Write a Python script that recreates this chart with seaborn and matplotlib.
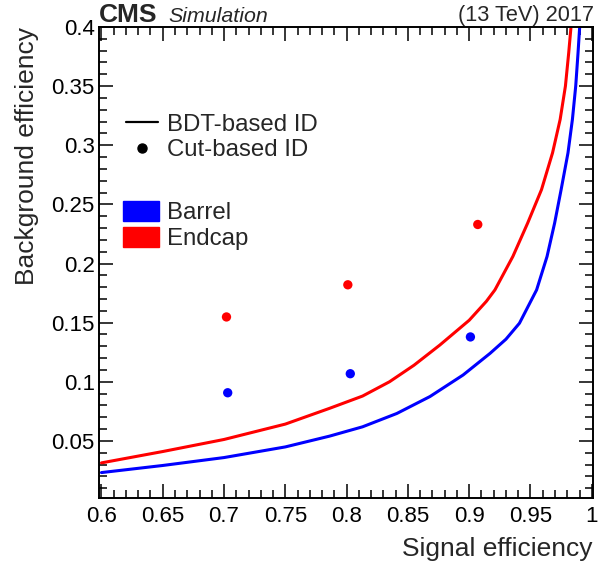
import numpy as np
import pandas as pd
import matplotlib
matplotlib.use("Agg")
import matplotlib.pyplot as plt
import seaborn as sns
from matplotlib.lines import Line2D
from matplotlib.patches import Patch
from matplotlib.ticker import MultipleLocator

# BDT-based ID curves (signal eff, background eff)
barrel_sig = [0.600, 0.650, 0.700, 0.750, 0.786, 0.813, 0.841, 0.868, 0.895, 0.917,
              0.930, 0.941, 0.955, 0.9635, 0.9697, 0.9750, 0.9806, 0.9842, 0.9869, 0.9888, 0.9901]
barrel_bkg = [0.0232, 0.0292, 0.0359, 0.0449, 0.0540, 0.0619, 0.0732, 0.0875, 0.1057, 0.1240,
              0.1360, 0.1495, 0.1777, 0.2059, 0.2342, 0.2625, 0.2936, 0.3218, 0.3500, 0.3783, 0.3995]
endcap_sig = [0.600, 0.650, 0.700, 0.750, 0.786, 0.813, 0.835, 0.855, 0.876, 0.900,
              0.914, 0.921, 0.9356, 0.9477, 0.959, 0.968, 0.9742, 0.9785, 0.9812, 0.9830]
endcap_bkg = [0.0314, 0.0410, 0.0512, 0.0642, 0.0775, 0.0879, 0.1000, 0.1140, 0.1310, 0.1520,
              0.1680, 0.1777, 0.2059, 0.2342, 0.2625, 0.2936, 0.3218, 0.3500, 0.3783, 0.3995]

# Cut-based ID working points
cut_barrel_sig = [0.703, 0.803, 0.901]
cut_barrel_bkg = [0.0907, 0.1068, 0.1379]
cut_endcap_sig = [0.702, 0.801, 0.907]
cut_endcap_bkg = [0.1548, 0.182, 0.233]

x_ticks = [0.6, 0.65, 0.7, 0.75, 0.8, 0.85, 0.9, 0.95, 1.0]
x_tick_labels = ["0.6", "0.65", "0.7", "0.75", "0.8", "0.85", "0.9", "0.95", "1"]
y_ticks = [0.05, 0.1, 0.15, 0.2, 0.25, 0.3, 0.35, 0.4]
y_tick_labels = ["0.05", "0.1", "0.15", "0.2", "0.25", "0.3", "0.35", "0.4"]

sns.set_style("ticks")
plt.rcParams["font.family"] = ["Liberation Sans", "DejaVu Sans"]

palette = {"Barrel": "#0000ff", "Endcap": "#ff0000"}

curves = pd.concat([
    pd.DataFrame({"sig": barrel_sig, "bkg": barrel_bkg, "region": "Barrel"}),
    pd.DataFrame({"sig": endcap_sig, "bkg": endcap_bkg, "region": "Endcap"}),
])
points = pd.concat([
    pd.DataFrame({"sig": cut_barrel_sig, "bkg": cut_barrel_bkg, "region": "Barrel"}),
    pd.DataFrame({"sig": cut_endcap_sig, "bkg": cut_endcap_bkg, "region": "Endcap"}),
])

fig = plt.figure(figsize=(5.99, 5.68), dpi=100)
ax = fig.add_axes([99 / 599, 1 - 498 / 568, 494 / 599, 471 / 568])

sns.lineplot(data=curves, x="sig", y="bkg", hue="region", palette=palette,
             estimator=None, sort=False, linewidth=2.2, legend=False, ax=ax)
sns.scatterplot(data=points, x="sig", y="bkg", hue="region", palette=palette,
                s=45, linewidth=0, legend=False, ax=ax)

ax.set_xlim(0.598, 1.001)
ax.set_ylim(0.0017, 0.4)
ax.set_xticks(x_ticks)
ax.set_xticklabels(x_tick_labels)
ax.set_yticks(y_ticks)
ax.set_yticklabels(y_tick_labels)
ax.xaxis.set_minor_locator(MultipleLocator(0.01))
ax.yaxis.set_minor_locator(MultipleLocator(0.01))
ax.tick_params(which="both", direction="in", top=True, right=True, width=1.1,
               colors="black", labelsize=16)
ax.tick_params(which="major", length=10)
ax.tick_params(axis="x", which="major", pad=6)
ax.tick_params(axis="y", which="major", pad=3)
ax.tick_params(which="minor", length=5.5)
for s in ax.spines.values():
    s.set_linewidth(1.4)
    s.set_color("black")

ax.set_xlabel("Signal efficiency", fontsize=19, loc="right")
ax.set_ylabel("Background efficiency", fontsize=19, loc="top")
ax.xaxis.set_label_coords(1.0, -0.082)
ax.yaxis.set_label_coords(-0.122, 1.0)

ax.text(0.0, 1.011, "CMS", transform=ax.transAxes, fontsize=19,
        fontweight="bold", ha="left", va="baseline")
ax.text(0.140, 1.011, "Simulation", transform=ax.transAxes, fontsize=15.4,
        fontstyle="italic", ha="left", va="baseline")
ax.text(1.003, 1.013, "(13 TeV) 2017", transform=ax.transAxes, fontsize=15.7,
        ha="right", va="baseline")

h1 = [Line2D([], [], color="black", linewidth=1.6),
      Line2D([], [], color="black", marker="o", linestyle="", markersize=6.5)]
leg1 = ax.legend(h1, ["BDT-based ID", "Cut-based ID"], loc="upper left",
                 bbox_to_anchor=(0.035, 0.836), frameon=False, fontsize=17.3,
                 handlelength=1.35, handletextpad=0.36, labelspacing=0.15,
                 borderaxespad=0)
ax.add_artist(leg1)
h2 = [Patch(facecolor=palette["Barrel"], edgecolor=palette["Barrel"]),
      Patch(facecolor=palette["Endcap"], edgecolor=palette["Endcap"])]
ax.legend(h2, ["Barrel", "Endcap"], loc="upper left",
          bbox_to_anchor=(0.03, 0.652), frameon=False, fontsize=17.3,
          handlelength=1.5, handleheight=0.95, handletextpad=0.31,
          labelspacing=0.1, borderaxespad=0)

fig.savefig("out.png", dpi=100)
